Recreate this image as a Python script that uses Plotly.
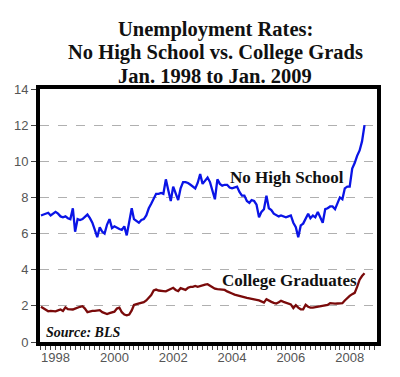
import pandas as pd
import plotly.graph_objects as go

months = pd.date_range("1998-01-01", "2009-01-01", freq="MS")

no_high_school = [
    7.0, 7.05, 7.1, 7.15, 7.0, 7.1, 7.2, 7.1, 6.95, 6.9, 6.95, 6.85,
    6.8, 7.4, 6.1, 6.8, 6.75, 6.8, 6.9, 7.05, 6.85, 6.6, 6.2, 5.8,
    6.35, 6.1, 6.0, 6.5, 6.8, 6.3, 6.4, 6.3, 6.25, 6.2, 6.4, 5.9,
    6.6, 7.4, 6.8, 6.7, 6.6, 6.75, 6.8, 7.0, 7.4, 7.65, 7.9, 8.2,
    8.2, 8.25, 8.2, 9.0, 8.4, 7.8, 8.6, 8.2, 7.85, 8.5, 8.85, 8.85,
    8.8, 8.7, 8.6, 8.5, 8.8, 9.3, 8.75, 8.95, 9.1, 8.85, 8.4, 7.9,
    9.0, 8.75, 8.65, 8.7, 8.7, 8.55, 8.5, 8.55, 8.6, 8.3, 8.1, 8.1,
    7.8, 7.7, 7.85, 7.8, 7.6, 6.9, 7.2, 7.35, 8.1, 7.4, 7.3, 7.1,
    7.0, 6.95, 7.0, 6.95, 6.9, 6.95, 7.0, 6.6, 6.35, 5.8, 6.45, 6.55,
    6.8, 7.1, 6.85, 7.0, 6.9, 7.2, 6.9, 6.6, 7.35, 7.4, 7.5, 7.5,
    7.35, 7.7, 8.0, 7.9, 8.5, 8.6, 8.6, 9.6, 9.9, 10.3, 10.6, 11.1,
    12.0,
]

college_grads = [
    1.95, 1.85, 1.75, 1.7, 1.72, 1.7, 1.7, 1.75, 1.8, 1.72, 1.92, 1.82,
    1.8, 1.8, 1.85, 1.92, 1.95, 1.98, 1.85, 1.65, 1.7, 1.72, 1.72, 1.75,
    1.76, 1.65, 1.6, 1.55, 1.6, 1.62, 1.68, 1.85, 1.9, 1.65, 1.52, 1.48,
    1.52, 1.75, 2.05, 2.1, 2.12, 2.18, 2.2, 2.3, 2.45, 2.6, 2.85, 2.9,
    2.85, 2.85, 2.82, 2.8, 2.88, 2.95, 3.0, 2.88, 2.82, 2.98, 2.95, 2.88,
    3.0, 3.05, 3.05, 3.1, 3.05, 3.1, 3.15, 3.18, 3.2, 3.12, 3.05, 2.95,
    2.92, 2.9, 2.88, 2.88, 2.8, 2.72, 2.68, 2.62, 2.58, 2.52, 2.5, 2.47,
    2.44, 2.42, 2.4, 2.39, 2.33, 2.3, 2.25, 2.18, 2.37, 2.28, 2.22, 2.17,
    2.13, 2.2, 2.28, 2.22, 2.18, 2.12, 2.08, 1.88, 2.04, 1.9, 1.81, 1.81,
    2.06, 1.95, 1.9, 1.9, 1.92, 1.95, 2.0, 1.98, 2.0, 2.05, 2.15, 2.12,
    2.12, 2.13, 2.13, 2.15, 2.3, 2.45, 2.55, 2.65, 2.72, 3.05, 3.45, 3.65,
    3.8,
]

title_lines = ["Unemployment Rates:", "No High School vs. College Grads", "Jan. 1998 to Jan. 2009"]
year_labels = ["1998", "2000", "2002", "2004", "2006", "2008"]
year_label_pos = [f"{y}-07-01" for y in year_labels]
y_ticks = [0, 2, 4, 6, 8, 10, 12, 14]

fig = go.Figure()
fig.add_trace(go.Scatter(x=months, y=no_high_school, mode="lines",
                         line=dict(color="#0a14e6", width=2.3), showlegend=False))
fig.add_trace(go.Scatter(x=months, y=college_grads, mode="lines",
                         line=dict(color="#7a0a0a", width=2.3), showlegend=False))

serif = "Liberation Serif"
# title rows placed at pixel centres (plot area spans px 89..342)
for txt, py in zip(title_lines, [29, 53, 75.5]):
    fig.add_annotation(x=0.52, xref="paper", y=(342 - py) / 253, yref="paper", text=f"<b>{txt}</b>",
                       showarrow=False, xanchor="center", yanchor="middle",
                       font=dict(family=serif, size=20.5, color="#111"))

fig.add_annotation(x="2006-05-15", y=9.1, text="<b>No High School</b>", showarrow=False,
                   font=dict(family=serif, size=17, color="#111"))
fig.add_annotation(x="2006-06-10", y=3.4, text="<b>College Graduates</b>", showarrow=False,
                   font=dict(family=serif, size=17, color="#111"))
fig.add_annotation(x=0.012, xref="paper", xanchor="left", y=0.55, text="<b><i>Source: BLS</i></b>",
                   showarrow=False, font=dict(family=serif, size=14, color="#111"))

fig.update_layout(
    width=400, height=377,
    margin=dict(l=40, r=23, t=89, b=35),
    paper_bgcolor="white", plot_bgcolor="white",
)
fig.update_xaxes(
    range=["1997-12-20", "2009-06-05"],
    tickmode="array", tickvals=year_label_pos, ticktext=year_labels,
    ticks="", showgrid=False,
    showline=True, linecolor="black", linewidth=4, mirror=True,
    tickfont=dict(family="Liberation Sans", size=13, color="#555"),
    minor=dict(tickmode="linear", tick0="1998-01-01", dtick="M2", ticks="outside",
               ticklen=4, tickcolor="#444", tickwidth=1, showgrid=False),
)
fig.update_yaxes(
    range=[0, 14], tickvals=y_ticks,
    ticks="outside", ticklen=5, tickcolor="#444",
    showgrid=True, gridcolor="#b0b0b0", griddash="dash", gridwidth=1,
    zeroline=False,
    showline=True, linecolor="black", linewidth=4, mirror=True,
    tickfont=dict(family="Liberation Sans", size=13, color="#555"),
)

fig.write_html("out.html")
